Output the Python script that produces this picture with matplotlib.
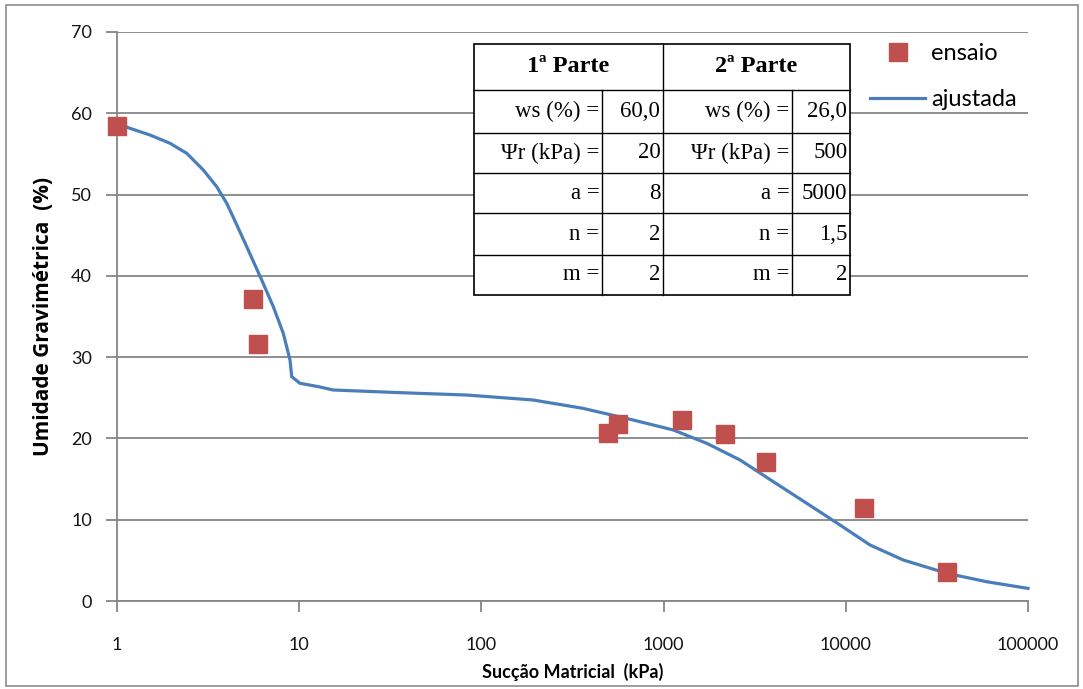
import matplotlib
matplotlib.use("Agg")
import matplotlib.pyplot as plt
from matplotlib.patches import Rectangle
from matplotlib.lines import Line2D

# measured points (ensaio)
suction_pts = [1, 5.58, 5.96, 495, 562, 1267, 2173, 3648, 12600, 35800]
moisture_pts = [58.4, 37.2, 31.6, 20.7, 21.8, 22.3, 20.6, 17.1, 11.4, 3.6]

# fitted curve (ajustada)
suction_fit = [1.0, 1.179, 1.517, 1.954, 2.413, 2.977, 3.526, 4.001, 4.348, 5.152,
               6.227, 7.207, 8.179, 8.904, 9.096, 10.10, 12.73, 15.33, 35.75,
               83.07, 191.9, 361.1, 679.4, 1130, 1725, 2627, 4001, 6101, 9294,
               13580, 20690, 35800, 59350, 100000]
moisture_fit = [58.77, 58.15, 57.33, 56.31, 55.08, 53.02, 50.97, 48.93, 47.2, 43.59,
                39.49, 36.21, 32.93, 29.65, 27.60, 26.78, 26.37, 25.96, 25.63,
                25.34, 24.73, 23.70, 22.27, 21.04, 19.40, 17.35, 14.68, 12.02, 9.35,
                6.89, 5.04, 3.41, 2.37, 1.55]

x_ticks = [1, 10, 100, 1000, 10000, 100000]
x_tick_labels = ["1", "10", "100", "1000", "10000", "100000"]
y_ticks = [0, 10, 20, 30, 40, 50, 60, 70]

table_headers = ["1ª Parte", "2ª Parte"]
table_labels = ["ws (%) =", "Ψr (kPa) =", "a =", "n =", "m ="]
part1_values = ["60,0", "20", "8", "2", "2"]
part2_values = ["26,0", "500", "5000", "1,5", "2"]

W, H = 1083, 689
fig = plt.figure(figsize=(W / 100, H / 100), dpi=100)
fig.patch.set_facecolor("white")
fig.add_artist(Rectangle((6 / W, 3 / H), (1078 - 6) / W, (684 - 3) / H,
                         transform=fig.transFigure, fill=False,
                         edgecolor="#8c8c8c", linewidth=1.2))

L, R, T, B = 117, 1028, 32, 601
ax = fig.add_axes([L / W, 1 - B / H, (R - L) / W, (B - T) / H])

gray = "#868686"
sans = ["Lato", "DejaVu Sans"]
ax.set_xscale("log")
ax.set_xlim(1, 100000)
ax.set_ylim(0, 70)
ax.set_xticks(x_ticks)
ax.set_xticklabels(x_tick_labels)
ax.minorticks_off()
ax.set_yticks(y_ticks)
ax.grid(axis="y", color=gray, linewidth=1.3)
ax.set_axisbelow(True)
for s in ["top", "right"]:
    ax.spines[s].set_visible(False)
for s in ["left", "bottom"]:
    ax.spines[s].set_color(gray)
    ax.spines[s].set_linewidth(1.3)

ax.tick_params(axis="x", length=8, width=1.3, color=gray, pad=18, labelcolor="#141414")
ax.tick_params(axis="y", length=8, width=1.3, color=gray, pad=10, labelcolor="#141414")
for lab in ax.get_xticklabels() + ax.get_yticklabels():
    lab.set_fontfamily(sans)
    lab.set_fontsize(13)

ax.plot(suction_fit, moisture_fit, color="#4A7EBB", linewidth=2.3,
        label="ajustada", zorder=3, clip_on=False, solid_joinstyle="round")
ax.plot(suction_pts, moisture_pts, linestyle="none", marker="s", markersize=13.5,
        color="#C0504D", markeredgecolor="#C0504D", label="ensaio", zorder=4,
        clip_on=False)

ax.set_xlabel("Sucção Matricial  (kPa)", family=sans,
              fontsize=13, fontweight="bold", labelpad=7)
ax.set_ylabel("Umidade Gravimétrica  (%)", family=["Open Sans", "DejaVu Sans"],
              fontsize=15, fontweight="bold", labelpad=12)

handles, labels = ax.get_legend_handles_labels()
leg = ax.legend(handles[::-1], labels[::-1], loc="upper left",
                bbox_to_anchor=((870 - L) / (R - L), (B - 43) / (B - T)),
                frameon=False, prop=dict(family=sans, size=17),
                handlelength=2.33, handletextpad=0.25, labelspacing=1.05,
                borderpad=0, borderaxespad=0)
for t in leg.get_texts():
    t.set_fontsize(17)
    t.set_fontfamily(sans)
leg.set_zorder(5)

# parameter table (drawn in axes fraction)
def fx(px):
    return (px - L) / (R - L)

def fy(py):
    return (B - py) / (B - T)

cols = [474, 602, 663, 792, 850]
rows = [44, 90, 133, 173, 213, 255, 295]
tkw = dict(transform=ax.transAxes, zorder=6)
ax.add_patch(Rectangle((fx(cols[0]), fy(rows[-1])), fx(cols[-1]) - fx(cols[0]),
                       fy(rows[0]) - fy(rows[-1]), facecolor="white",
                       edgecolor="black", linewidth=1.2, **tkw))
lkw = dict(color="black", linewidth=1.0, transform=ax.transAxes, zorder=7)
for r in rows[1:-1]:
    ax.add_line(Line2D([fx(cols[0]), fx(cols[-1])], [fy(r), fy(r)], **lkw))
ax.add_line(Line2D([fx(cols[2]), fx(cols[2])], [fy(rows[0]), fy(rows[-1])], **lkw))
for c in (cols[1], cols[3]):
    ax.add_line(Line2D([fx(c), fx(c)], [fy(rows[1]), fy(rows[-1])], **lkw))

serif = ["Liberation Serif", "DejaVu Serif"]
for i, h in enumerate(table_headers):
    xc = (fx(cols[2 * i]) + fx(cols[2 * i + 2])) / 2
    yc = (fy(rows[0]) + fy(rows[1])) / 2
    ax.text(xc, yc, h, ha="center", va="center", family=serif, fontsize=17.5,
            fontweight="bold", zorder=8, transform=ax.transAxes)
for j in range(len(table_labels)):
    yc = (fy(rows[j + 1]) + fy(rows[j + 2])) / 2
    for i, vals in enumerate((part1_values, part2_values)):
        ax.text(fx(cols[2 * i + 1]) - 0.003, yc, table_labels[j], ha="right",
                va="center", family=serif, fontsize=16.5, zorder=8,
                transform=ax.transAxes)
        ax.text(fx(cols[2 * i + 2]) - 0.003, yc, vals[j], ha="right",
                va="center", family=serif, fontsize=16.5, zorder=8,
                transform=ax.transAxes)

fig.savefig("out.png", dpi=100)
